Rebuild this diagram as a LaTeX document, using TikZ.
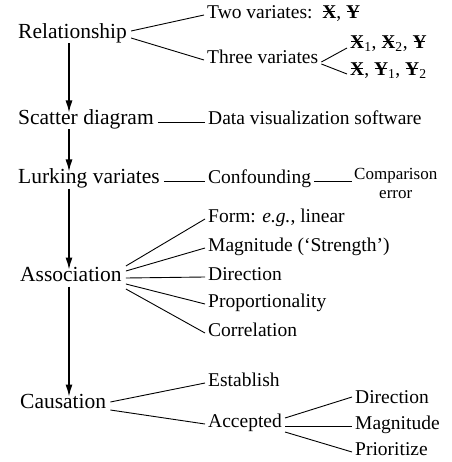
\documentclass[tikz,border=0pt]{standalone}
\usepackage{fontspec}
\setmainfont{Liberation Serif}
\usetikzlibrary{arrows.meta}
\newcommand\strk[1]{\ooalign{\textbf{#1}\cr\hidewidth\rule[0.3em]{0.6em}{0.07em}\hidewidth\cr}}
\tikzset{
  mainbox/.style={anchor=west,inner xsep=4pt,inner ysep=5pt,font=\fontsize{21.5}{24}\selectfont,text height=0.66em,text depth=0pt},
  subbox/.style={anchor=west,inner xsep=3pt,inner ysep=3pt,font=\fontsize{19.5}{22}\selectfont,text height=0.66em,text depth=0pt},
  link/.style={line width=0.9pt},
  arr/.style={line width=1.3pt,-{Latex[length=12pt,width=7pt]}}
}
\begin{document}
\begin{tikzpicture}[x=1pt,y=-1pt]
\useasboundingbox (0,0) rectangle (451,462);
\coordinate (ax) at (69,0);
% main column
\node[mainbox] (rel) at (14,35) {Relationship};
\node[mainbox] (sc) at (14,121) {Scatter diagram};
\node[mainbox] (lk) at (14,180) {Lurking variates};
\node[mainbox] (as) at (16,278) {Association};
\node[mainbox] (ca) at (16,405) {Causation};
\draw[arr] (rel.south -| ax) -- (sc.north -| ax);
\draw[arr] (sc.south -| ax) -- (lk.north -| ax);
\draw[arr] (lk.south -| ax) -- (as.north -| ax);
\draw[arr] (as.south -| ax) -- (ca.north -| ax);
% relationship
\node[subbox] (tv) at (204,15) {Two variates:\ \ \strk{X}, \strk{Y}};
\node[subbox] (thv) at (204,60) {Three variates};
\node[subbox] (x12) at (347,45) {\strk{X}\textsubscript{1}, \strk{X}\textsubscript{2}, \strk{Y}};
\node[subbox] (xy12) at (347,72) {\strk{X}, \strk{Y}\textsubscript{1}, \strk{Y}\textsubscript{2}};
\draw[link] ([yshift=4pt]rel.east) -- (tv.west);
\draw[link] ([yshift=-3pt]rel.east) -- (thv.west);
\draw[link] ([yshift=-2pt]thv.east) -- ([yshift=-3pt]x12.west);
\draw[link] ([yshift=-4pt]thv.east) -- ([yshift=-2pt]xy12.west);
% scatter
\node[subbox] (dv) at (205,121) {Data visualization software};
\draw[link] ([yshift=-1pt]sc.east) -- ([yshift=-1pt]dv.west);
% lurking
\node[subbox] (cf) at (205,180) {Confounding};
\node[anchor=north west,inner sep=2pt,align=center,font=\fontsize{17}{19}\selectfont] (cmp) at (352,166) {Comparison\\error};
\draw[link] ([yshift=-1pt]lk.east) -- ([yshift=-1pt]cf.west);
\draw[link] ([yshift=-1pt]cf.east) -- ([yshift=-1pt]cf.east -| cmp.west);
% association
\node[subbox] (form) at (205,219) {Form: \textit{e.g.}, linear};
\node[subbox] (mag) at (205,248) {Magnitude (‘Strength’)};
\node[subbox] (dir) at (205,277) {Direction};
\node[subbox] (prop) at (205,304) {Proportionality};
\node[subbox] (corr) at (205,333) {Correlation};
\draw[link] ([yshift=12pt]as.east) -- (form.west);
\draw[link] ([yshift=7pt]as.east) -- (mag.west);
\draw[link] ([yshift=0pt]as.east) -- (dir.west);
\draw[link] ([yshift=-6pt]as.east) -- (prop.west);
\draw[link] ([yshift=-11pt]as.east) -- (corr.west);
% causation
\node[subbox] (est) at (205,383) {Establish};
\node[subbox] (acc) at (205,424) {Accepted};
\draw[link] ([yshift=3pt]ca.east) -- (est.west);
\draw[link] ([yshift=-5pt]ca.east) -- (acc.west);
\node[subbox] (adir) at (352,400) {Direction};
\node[subbox] (amag) at (352,426) {Magnitude};
\node[subbox] (apri) at (352,452) {Prioritize};
\draw[link] ([yshift=6pt]acc.east) -- ([yshift=3pt]adir.west);
\draw[link] ([yshift=-2pt]acc.east) -- (amag.west);
\draw[link] ([yshift=-8pt]acc.east) -- (apri.west);
\end{tikzpicture}
\end{document}
